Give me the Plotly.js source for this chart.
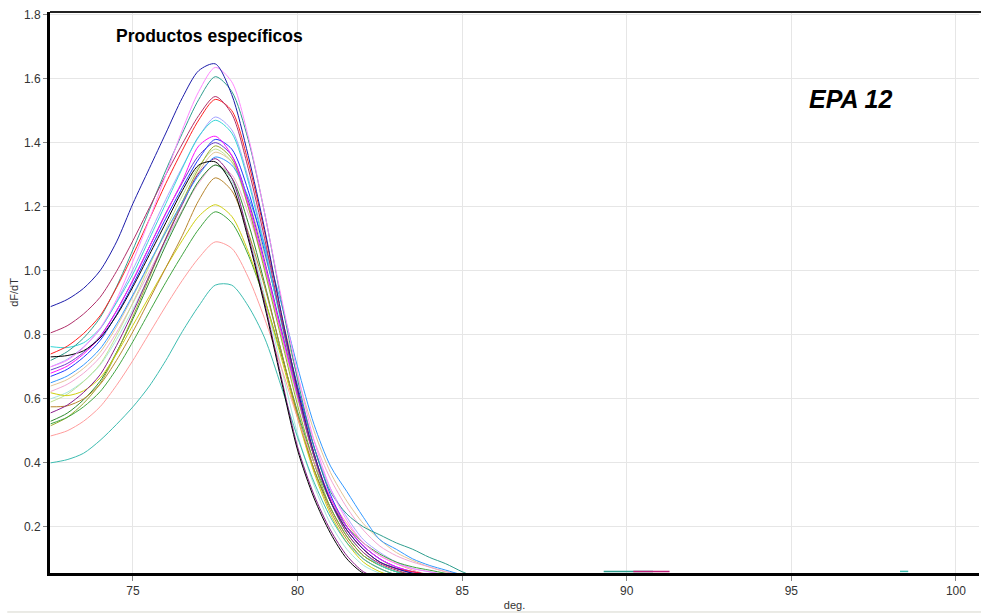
<!DOCTYPE html>
<html>
<head>
<meta charset="utf-8">
<script src="https://cdn.plot.ly/plotly-3.0.1.min.js"></script>
<style>html,body{margin:0;padding:0;background:#fff;}#chart{width:981px;height:613px;}</style>
</head>
<body>
<div id="chart"></div>
<script>
const deg = [72.5,73,73.5,74,74.5,75,75.5,76,76.5,77,77.5,78,78.5,79,79.5,80,80.5,81,81.5,82,82.5,83,83.5,84,84.5,85,85.5,86];

const s01 = [0.888,0.91,0.945,1.0,1.09,1.21,1.32,1.43,1.54,1.625,1.646,1.55,1.36,1.13,0.87,0.63,0.43,0.28,0.19,0.13,0.09,0.07,0.055,0.045,0.04,0.03,0.02,0.01];
const s02 = [0.70,0.72,0.76,0.82,0.91,1.03,1.16,1.30,1.44,1.56,1.635,1.59,1.42,1.18,0.92,0.68,0.47,0.32,0.22,0.15,0.11,0.085,0.07,0.06,0.05,0.04,0.03,0.02];
const s03 = [0.72,0.747,0.79,0.853,0.95,1.066,1.19,1.314,1.429,1.535,1.606,1.56,1.41,1.18,0.91,0.66,0.45,0.31,0.24,0.20,0.175,0.15,0.13,0.105,0.085,0.06,0.04,0.02];
const s04 = [0.806,0.828,0.865,0.917,0.998,1.094,1.197,1.30,1.396,1.485,1.544,1.49,1.32,1.10,0.85,0.62,0.42,0.28,0.18,0.12,0.085,0.065,0.05,0.04,0.035,0.03,0.02,0.01];
const s05 = [0.74,0.764,0.804,0.859,0.947,1.05,1.161,1.273,1.376,1.471,1.535,1.50,1.34,1.12,0.87,0.63,0.43,0.28,0.19,0.13,0.09,0.07,0.06,0.05,0.04,0.03,0.02,0.01];
const s06 = [0.70,0.723,0.762,0.817,0.903,1.004,1.113,1.223,1.324,1.418,1.48,1.44,1.29,1.08,0.85,0.63,0.45,0.32,0.23,0.16,0.12,0.09,0.07,0.06,0.05,0.04,0.03,0.02];
const s07 = [0.763,0.76,0.775,0.82,0.90,0.99,1.10,1.21,1.32,1.42,1.47,1.43,1.28,1.07,0.84,0.62,0.42,0.28,0.18,0.12,0.08,0.06,0.045,0.04,0.03,0.02,0.02,0.01];
const s08 = [0.68,0.702,0.74,0.792,0.874,0.971,1.075,1.179,1.28,1.39,1.42,1.36,1.21,1.02,0.81,0.61,0.42,0.29,0.20,0.14,0.10,0.075,0.06,0.05,0.04,0.03,0.02,0.01];
const s09 = [0.67,0.692,0.73,0.782,0.863,0.957,1.061,1.164,1.26,1.349,1.41,1.38,1.25,1.06,0.85,0.64,0.45,0.30,0.20,0.14,0.10,0.075,0.06,0.05,0.04,0.03,0.02,0.01];
const s10 = [0.516,0.542,0.586,0.647,0.743,0.857,0.979,1.102,1.215,1.32,1.39,1.35,1.20,1.00,0.79,0.58,0.40,0.26,0.17,0.11,0.08,0.06,0.05,0.04,0.03,0.02,0.02,0.01];
const s11 = [0.59,0.614,0.654,0.708,0.797,0.901,1.015,1.129,1.234,1.326,1.38,1.34,1.20,1.01,0.80,0.60,0.42,0.29,0.20,0.14,0.10,0.07,0.055,0.045,0.035,0.03,0.02,0.01];
const s12 = [0.65,0.671,0.706,0.756,0.833,0.925,1.024,1.122,1.214,1.299,1.355,1.33,1.23,1.08,0.90,0.70,0.52,0.39,0.31,0.23,0.16,0.13,0.10,0.08,0.065,0.05,0.035,0.02];
const s13 = [0.556,0.58,0.62,0.675,0.766,0.871,0.986,1.10,1.207,1.305,1.35,1.29,1.11,0.90,0.67,0.45,0.30,0.19,0.11,0.06,0.04,0.03,0.02,0.02,0.01,0.01,0.01,0.01];
const s14 = [0.731,0.735,0.75,0.79,0.86,0.95,1.05,1.15,1.25,1.33,1.34,1.27,1.10,0.89,0.66,0.44,0.29,0.18,0.10,0.055,0.04,0.03,0.02,0.02,0.01,0.01,0.01,0.01];
const s15 = [0.623,0.645,0.68,0.73,0.807,0.899,0.998,1.097,1.189,1.274,1.33,1.30,1.18,1.01,0.82,0.63,0.47,0.35,0.26,0.19,0.14,0.11,0.09,0.075,0.06,0.05,0.04,0.02];
const s16 = [0.575,0.578,0.60,0.645,0.72,0.81,0.91,1.01,1.11,1.22,1.29,1.25,1.12,0.95,0.75,0.55,0.38,0.25,0.16,0.10,0.07,0.05,0.04,0.03,0.02,0.02,0.01,0.01];
const s17 = [0.619,0.61,0.625,0.665,0.74,0.83,0.92,1.01,1.095,1.17,1.206,1.17,1.06,0.91,0.73,0.54,0.37,0.24,0.15,0.09,0.06,0.045,0.035,0.03,0.02,0.02,0.01,0.01];
const s18 = [0.522,0.542,0.575,0.622,0.693,0.779,0.872,0.964,1.05,1.13,1.184,1.15,1.05,0.91,0.74,0.56,0.40,0.28,0.20,0.15,0.115,0.09,0.075,0.065,0.055,0.045,0.03,0.02];
const s19 = [0.484,0.50,0.53,0.575,0.642,0.72,0.805,0.89,0.97,1.04,1.09,1.07,0.98,0.85,0.70,0.54,0.40,0.29,0.21,0.15,0.11,0.085,0.065,0.05,0.04,0.03,0.02,0.01];
const s20 = [0.40,0.41,0.43,0.47,0.52,0.575,0.64,0.72,0.81,0.89,0.955,0.955,0.89,0.79,0.64,0.48,0.34,0.23,0.15,0.10,0.07,0.05,0.04,0.03,0.02,0.02,0.01,0.01];
const s21 = [0.60,0.62,0.655,0.705,0.785,0.88,0.985,1.09,1.19,1.28,1.33,1.28,1.12,0.92,0.70,0.49,0.33,0.21,0.13,0.08,0.055,0.04,0.03,0.02,0.02,0.01,0.01,0.01];
const s22 = [0.64,0.66,0.695,0.745,0.825,0.92,1.02,1.12,1.215,1.31,1.37,1.34,1.22,1.05,0.86,0.67,0.50,0.37,0.28,0.21,0.16,0.12,0.095,0.075,0.06,0.05,0.035,0.02];
const s23 = [0.69,0.71,0.745,0.795,0.875,0.97,1.075,1.18,1.275,1.36,1.40,1.36,1.22,1.03,0.82,0.61,0.42,0.28,0.19,0.13,0.09,0.07,0.055,0.045,0.035,0.03,0.02,0.01];
const s24 = [0.53,0.555,0.597,0.655,0.745,0.85,0.965,1.08,1.185,1.28,1.33,1.29,1.15,0.96,0.75,0.55,0.38,0.26,0.17,0.11,0.08,0.06,0.05,0.04,0.03,0.02,0.02,0.01];

// short flat baseline segments near 89-91 and 98
const tailDegA = [89.3,90.8];
const tailValA = [0.061,0.061];
const tailDegB = [90.2,91.3];
const tailValB = [0.061,0.061];
const tailDegC = [98.3,98.55];
const tailValC = [0.061,0.061];

const series = [s22,s21,s15,s11,s06,s24,s10,s18,s17,s16,s19,s20,s13,s23,s12,s09,s08,s07,s03,s05,s04,s14,s02,s01];
const colors = ['#e2c596','#a6e6de','#f2a6d2','#bfe28f','#a4a4ff','#2f8a2f','#9aab30','#3fa43f','#cfcf10','#b8862e','#ff9c9c','#3cbcb0','#8a1a8a','#6a3fc8','#3399ff','#2036ff','#ff10ff','#36d6d6','#2e9e8e','#ff2020','#b0306a','#000000','#ff88ff','#1c1caa'];

const xTicks = [75,80,85,90,95,100];
const yTicks = [0.2,0.4,0.6,0.8,1.0,1.2,1.4,1.6,1.8];

const traces = series.map((s,i)=>({
  x: deg, y: s, type:'scatter', mode:'lines',
  line:{color:colors[i], width:1, shape:'spline', smoothing:0.8},
  hoverinfo:'skip', showlegend:false
}));
traces.push({x:tailDegA, y:tailValA, type:'scatter', mode:'lines', line:{color:'#2e9e8e', width:1.5}, hoverinfo:'skip', showlegend:false});
traces.push({x:tailDegB, y:tailValB, type:'scatter', mode:'lines', line:{color:'#c0207a', width:1.5}, hoverinfo:'skip', showlegend:false});
traces.push({x:tailDegC, y:tailValC, type:'scatter', mode:'lines', line:{color:'#3cbcb0', width:1.5}, hoverinfo:'skip', showlegend:false});

const layout = {
  width:981, height:613,
  margin:{l:50, r:2, t:12, b:40, pad:0},
  paper_bgcolor:'#ffffff', plot_bgcolor:'#ffffff',
  font:{family:'Liberation Sans, Arial, sans-serif', color:'#333333', size:12},
  showlegend:false,
  xaxis:{
    range:[72.48,100.7], tickvals:xTicks, ticktext:xTicks.map(String),
    showgrid:true, gridcolor:'#e6e6e6', gridwidth:1,
    showline:true, linecolor:'#000000', linewidth:3,
    ticks:'outside', ticklen:5, tickcolor:'#888888', tickwidth:1,
    zeroline:false, tickfont:{size:12, color:'#333333'},
    title:{text:'deg.', font:{size:11, color:'#333333'}, standoff:4}
  },
  yaxis:{
    range:[0.056,1.808], tickvals:yTicks, ticktext:yTicks.map(v=>v.toFixed(1)),
    showgrid:true, gridcolor:'#e6e6e6', gridwidth:1,
    showline:true, linecolor:'#000000', linewidth:3,
    ticks:'outside', ticklen:4, tickcolor:'#888888', tickwidth:1,
    zeroline:false, tickfont:{size:12, color:'#333333'},
    title:{text:'dF/dT', font:{size:11, color:'#333333'}, standoff:4}
  },
  shapes:[
    {type:'line', xref:'paper', yref:'paper', x0:0, x1:1.01, y0:1, y1:1, line:{color:'#222222', width:2}},
    {type:'line', xref:'paper', yref:'paper', x0:-0.046, x1:1.01, y0:-0.0695, y1:-0.0695, line:{color:'#d6d6cc', width:1}}
  ],
  annotations:[
    {text:'<b>Productos específicos</b>', xref:'paper', yref:'paper', x:0.172, y:0.957, showarrow:false,
     xanchor:'center', yanchor:'middle', font:{size:17.5, color:'#000000', family:'Liberation Sans, Arial, sans-serif'}},
    {text:'<b><i>EPA 12</i></b>', xref:'paper', yref:'paper', x:0.862, y:0.845, showarrow:false,
     xanchor:'center', yanchor:'middle', font:{size:25, color:'#000000', family:'Liberation Sans, Arial, sans-serif'}}
  ]
};

Plotly.newPlot('chart', traces, layout, {displayModeBar:false, staticPlot:true});
</script>
</body>
</html>
